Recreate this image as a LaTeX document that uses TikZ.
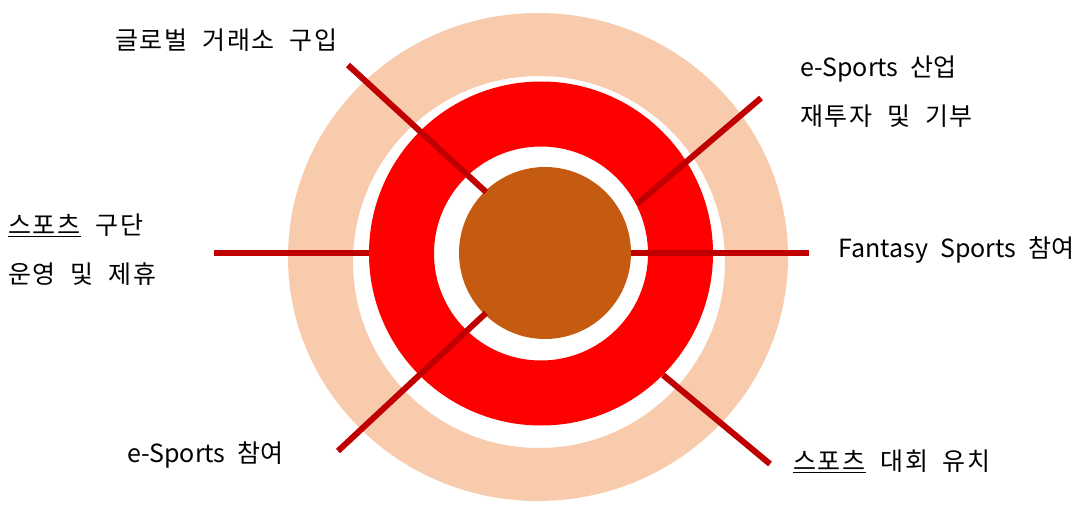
\documentclass[tikz,border=0pt]{standalone}
\usepackage{fontspec}
\setmainfont{Noto Sans CJK KR}[WordSpace=2.2]
\newfontfamily\hg{Noto Sans CJK KR}[WordSpace=2.0, LetterSpace=7]
\definecolor{peach}{HTML}{F8CBAD}
\definecolor{ringred}{HTML}{FF0000}
\definecolor{core}{HTML}{C55A11}
\definecolor{spoke}{HTML}{C00000}
\tikzset{
  spokeline/.style={draw=spoke, line width=6pt},
  lbl/.style={anchor=west, inner sep=0pt, font=\fontsize{25}{49}\selectfont, align=left},
}
\begin{document}
\begin{tikzpicture}[x=1pt,y=-1pt]
\useasboundingbox (0,0) rectangle (1082,505);
% rings
\fill[peach, even odd rule] (538,257) ellipse [x radius=250, y radius=244]
  (539,262) ellipse [x radius=186, y radius=186];
\fill[ringred, even odd rule] (541,253.5) circle [radius=172] (541,253.5) circle [radius=107];
\node[circle, fill=core, minimum size=172pt, inner sep=0pt] (core) at (545,253) {};
% spoke end points
\coordinate (tl1) at (348,65);   \coordinate (tl2) at (486,192);
\coordinate (tr1) at (761,98);   \coordinate (tr2) at (637,204);
\coordinate (l1) at (214,253);   \coordinate (l2) at (369,253);
\coordinate (r1) at (631,253);   \coordinate (r2) at (809,253);
\coordinate (bl1) at (338,451);  \coordinate (bl2) at (486,313);
\coordinate (br1) at (663,375);  \coordinate (br2) at (770,464);
\draw[spokeline] (tl1) -- (tl2);
\draw[spokeline] (tr1) -- (tr2);
\draw[spokeline] (l1) -- (l2);
\draw[spokeline] (r1) -- (r2);
\draw[spokeline] (bl1) -- (bl2);
\draw[spokeline] (br1) -- (br2);
% labels
\node[lbl] (t1) at (115,40) {\hg 글로벌 거래소 구입};
\node[lbl] (t2) at (8,250) {\hg\underline{스포츠} 구단\\\hg 운영 및 제휴};
\node[lbl] (t3) at (800,92) {e-Sports 산업\\\hg 재투자 및 기부};
\node[lbl] (t4) at (838,250) {Fantasy Sports 참여};
\node[lbl] (t5) at (127,455) {e-Sports 참여};
\node[lbl] (t6) at (793,461) {\hg\underline{스포츠} 대회 유치};
\end{tikzpicture}
\end{document}
